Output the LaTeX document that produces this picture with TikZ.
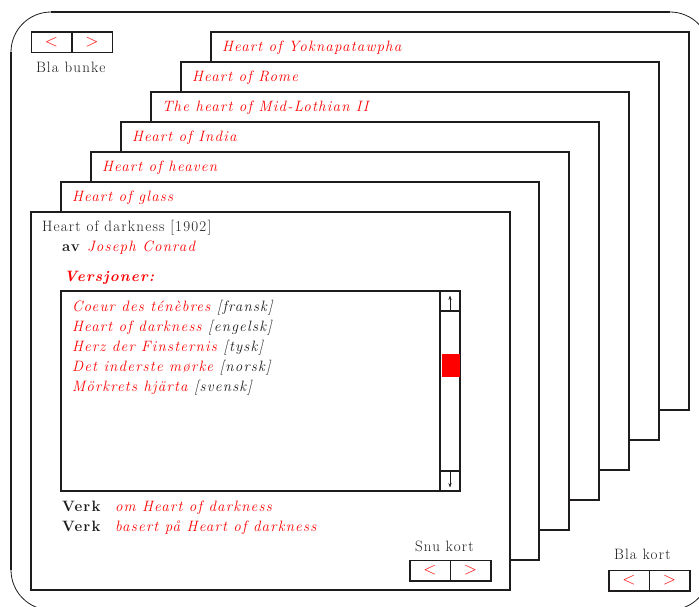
\documentclass[tikz,border=0pt]{standalone}
\usepackage{fontspec}
\setmainfont{Latin Modern Roman}[LetterSpace=8]
\usetikzlibrary{arrows.meta}
\definecolor{linkred}{RGB}{255,0,0}
\definecolor{ink}{RGB}{30,28,29}

\begin{document}
\begin{tikzpicture}[x=1pt,y=-1pt,
  every node/.style={inner sep=0pt, outer sep=0pt, anchor=base west,
    font=\fontsize{15}{18}\selectfont, text=ink},
  frameline/.style={draw=ink, line width=1.7pt},
  framearc/.style={draw=ink, line width=0.8pt},
  card/.style={draw=ink, fill=white, line width=1.5pt, anchor=north west,
    minimum width=478pt, minimum height=378pt},
  ttl/.style={text=linkred, font=\fontsize{15}{18}\selectfont\itshape},
  red it/.style={text=linkred, font=\fontsize{15}{18}\selectfont\itshape},
  it/.style={font=\fontsize{15}{18}\selectfont\itshape},
  bld/.style={font=\fontsize{15}{18}\selectfont\bfseries},
  btn/.style={draw=ink, line width=1.5pt, anchor=center, text=linkred,
    minimum width=40.5pt, minimum height=20.5pt, font=\fontsize{16}{18}\selectfont},
  sbline/.style={draw=ink, line width=1.5pt},
  sbarrow/.style={draw=ink, line width=0.6pt, -{Stealth[length=4.5pt,width=3.2pt]}}
]
\useasboundingbox (0,0) rectangle (699,606);
\clip (0,0) rectangle (699,606);

% outer rounded frame: straight sides heavy, corners light
\draw[frameline] (51,12) -- (670,12);
\draw[frameline] (11,52) -- (11,570);
\draw[framearc] (11,52) arc[start angle=180, end angle=270, radius=40];
\draw[framearc] (670,12) arc[start angle=270, end angle=360, radius=40];
\draw[framearc] (11,570) arc[start angle=180, end angle=90, radius=40];
\draw[framearc] (710,570) arc[start angle=0, end angle=90, radius=40];

% stack of cards, back to front
\foreach \i/\t in {0/{Heart of Yoknapatawpha},1/{Heart of Rome},
                   2/{The heart of Mid-Lothian II},3/{Heart of India},
                   4/{Heart of heaven},5/{Heart of glass}}{
  \pgfmathsetmacro\cl{211-30*\i}
  \pgfmathsetmacro\ct{32+30*\i}
  \node[card] (card\i) at (\cl,\ct) {};
  \node[ttl] (title\i) at (\cl+11,\ct+19.5) {\t};
}

% front card
\node[card, minimum width=479pt] (card6) at (31,212) {};
\node (work) at (42,231) {Heart of darkness [1902]};
\node[bld] (av) at (62,251) {av};
\node[red it] (author) at (87,251) {Joseph Conrad};
\node[text=linkred, font=\fontsize{15}{18}\selectfont\bfseries\itshape] (vers) at (64,281) {Versjoner:};

% version list with scrollbar
\node[draw=ink, line width=1.5pt, anchor=north west, minimum width=399pt,
  minimum height=200pt] (list) at (61,291) {};
\coordinate (sbtop) at (440,291);
\coordinate (sbbot) at (440,491);
\draw[sbline] (sbtop) -- (sbbot);
\draw[sbline] (440,311) -- (460,311);
\draw[sbline] (440,471) -- (460,471);
\fill[linkred] (442,354) rectangle (460,377);
\draw[sbarrow] (450,310) -- (450,295.5);
\draw[sbarrow] (450,472) -- (450,487.5);

\node[it] (v1) at (72,311) {\textcolor{linkred}{Coeur des ténèbres} [fransk]};
\node[it] (v2) at (72,331) {\textcolor{linkred}{Heart of darkness} [engelsk]};
\node[it] (v3) at (72,351) {\textcolor{linkred}{Herz der Finsternis} [tysk]};
\node[it] (v4) at (72,371) {\textcolor{linkred}{Det inderste mørke} [norsk]};
\node[it] (v5) at (72,391) {\textcolor{linkred}{Mörkrets hjärta} [svensk]};

% related works
\node[bld] (verk1) at (62,511) {Verk};
\node[red it] (rel1) at (115,511) {om Heart of darkness};
\node[bld] (verk2) at (62,531) {Verk};
\node[red it] (rel2) at (115,531) {basert på Heart of darkness};

% navigation buttons
\node (bunke) at (36,72) {Bla bunke};
\node[btn] (bunkeL) at (51.5,42) {$<$};
\node[btn] (bunkeR) at (92,42) {$>$};

\node (snu) at (415,551) {Snu kort};
\node[btn] (snuL) at (430,570.5) {$<$};
\node[btn] (snuR) at (470.5,570.5) {$>$};

\node (kort) at (614,559) {Bla kort};
\node[btn] (kortL) at (629,580.5) {$<$};
\node[btn] (kortR) at (669.5,580.5) {$>$};
\end{tikzpicture}
\end{document}
